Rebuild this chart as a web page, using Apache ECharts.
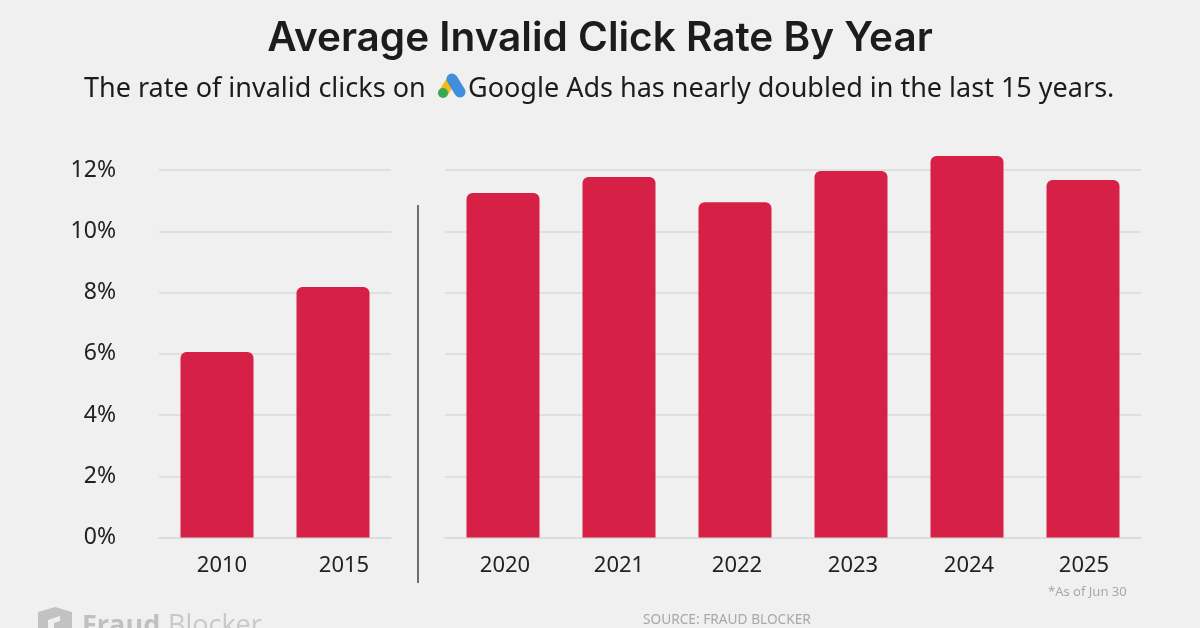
<!DOCTYPE html>
<html>
<head>
<meta charset="utf-8">
<script src="https://cdn.jsdelivr.net/npm/echarts@6/dist/echarts.min.js"></script>
<style>
html,body{margin:0;padding:0;background:#f0f0f0;}
#main{width:1200px;height:628px;}
</style>
</head>
<body>
<div id="main"></div>
<script>
var early_years = ["2010","2015"];
var early_rates = [6.06,8.18];
var recent_years = ["2020","2021","2022","2023","2024","2025"];
var recent_rates = [11.25,11.77,10.95,11.97,12.46,11.67];

var BAR_COLOR = "#d62046";
var GRID_COLOR = "#dadada";
var TEXT_FONT = "'Noto Sans'";

// the year labels sit a little right of their bars in the original
function x_axis(index,years,label_pad){
    var labels = [];
    for(var i=0;i<years.length;i++){
        labels.push({value:years[i],textStyle:{padding:[0,0,0,label_pad[i]]}});
    }
    return {
        type:'category',
        gridIndex:index,
        data:labels,
        axisLine:{show:true,lineStyle:{color:GRID_COLOR,width:1.5}},
        axisTick:{show:false},
        axisLabel:{color:'#222',fontFamily:TEXT_FONT,fontSize:22,margin:17}
    };
}
function y_axis(index,showLabel){
    return {
        type:'value',
        gridIndex:index,
        min:0,
        max:14,
        interval:2,
        axisLine:{show:false},
        axisTick:{show:false},
        splitLine:{show:true,showMaxLine:false,lineStyle:{color:GRID_COLOR,width:1.5}},
        axisLabel:{
            show:showLabel,
            showMaxLabel:false,
            color:'#222',
            fontFamily:TEXT_FONT,
            fontSize:23,
            margin:43,
            padding:[7,0,0,0],
            formatter:'{value}%'
        }
    };
}
function bar_series(index,rates){
    return {
        type:'bar',
        xAxisIndex:index,
        yAxisIndex:index,
        data:rates,
        barWidth:73,
        silent:true,
        itemStyle:{color:BAR_COLOR,borderRadius:[6,6,0,0]}
    };
}

var mychart = echarts.init(document.getElementById('main'));
var option = {
    animation:false,
    backgroundColor:'#f0f0f0',
    title:[
        {text:'Average Invalid Click Rate By Year',left:'center',top:13,
         textStyle:{color:'#1c1c1c',fontFamily:'Inter',fontSize:40.5,fontWeight:600}},
        {text:'The rate of invalid clicks on',left:79,top:71,
         textStyle:{color:'#1c1c1c',fontFamily:TEXT_FONT,fontSize:27,fontWeight:400}},
        {text:'Google Ads has nearly doubled in the last 15 years.',left:463,top:71,
         textStyle:{color:'#1c1c1c',fontFamily:TEXT_FONT,fontSize:27,fontWeight:400}},
        {text:'*As of Jun 30',left:1043,top:581,
         textStyle:{color:'#a8a8a8',fontFamily:TEXT_FONT,fontSize:13,fontWeight:400}},
        {text:'SOURCE: FRAUD BLOCKER',left:638,top:608,
         textStyle:{color:'#a8a8a8',fontFamily:TEXT_FONT,fontSize:13.7,fontWeight:400}}
    ],
    grid:[
        {left:159,width:232,top:108.75,height:428.75},
        {left:445,width:696,top:108.75,height:428.75}
    ],
    xAxis:[x_axis(0,early_years,[10,22]),x_axis(1,recent_years,[4,0,4,4,4,2])],
    yAxis:[y_axis(0,true),y_axis(1,false)],
    series:[bar_series(0,early_rates),bar_series(1,recent_rates)],
    graphic:[
        // divider between the two periods
        {type:'line',shape:{x1:418,y1:205,x2:418,y2:583},style:{stroke:'#1a1a1a',lineWidth:1.2}},
        // Google Ads logo
        {type:'line',shape:{x1:444,y1:92,x2:452,y2:79},style:{stroke:'#f5bb1e',lineWidth:10,lineCap:'round'}},
        {type:'line',shape:{x1:452,y1:79,x2:460,y2:92},style:{stroke:'#3f8fdc',lineWidth:11,lineCap:'round'}},
        {type:'circle',shape:{cx:443,cy:93,r:5},style:{fill:'#34a853'}},
        // Fraud Blocker watermark, cut off by the bottom edge
        {type:'polygon',shape:{points:[[38,612],[55,607],[72,612],[72,630],[38,630]]},style:{fill:'#c2c2c2'}},
        {type:'polygon',shape:{points:[[48,628],[48,620],[60,616],[60,621],[54,623],[54,628]]},style:{fill:'#f0f0f0'}},
        {type:'text',x:82,y:613,style:{text:'Fraud',fill:'#c0c0c0',font:"700 27px 'Open Sans'"}},
        {type:'text',x:168,y:613,style:{text:'Blocker',fill:'#c8c8c8',font:"400 27px 'Open Sans'"}}
    ]
};
mychart.setOption(option);
</script>
</body>
</html>
